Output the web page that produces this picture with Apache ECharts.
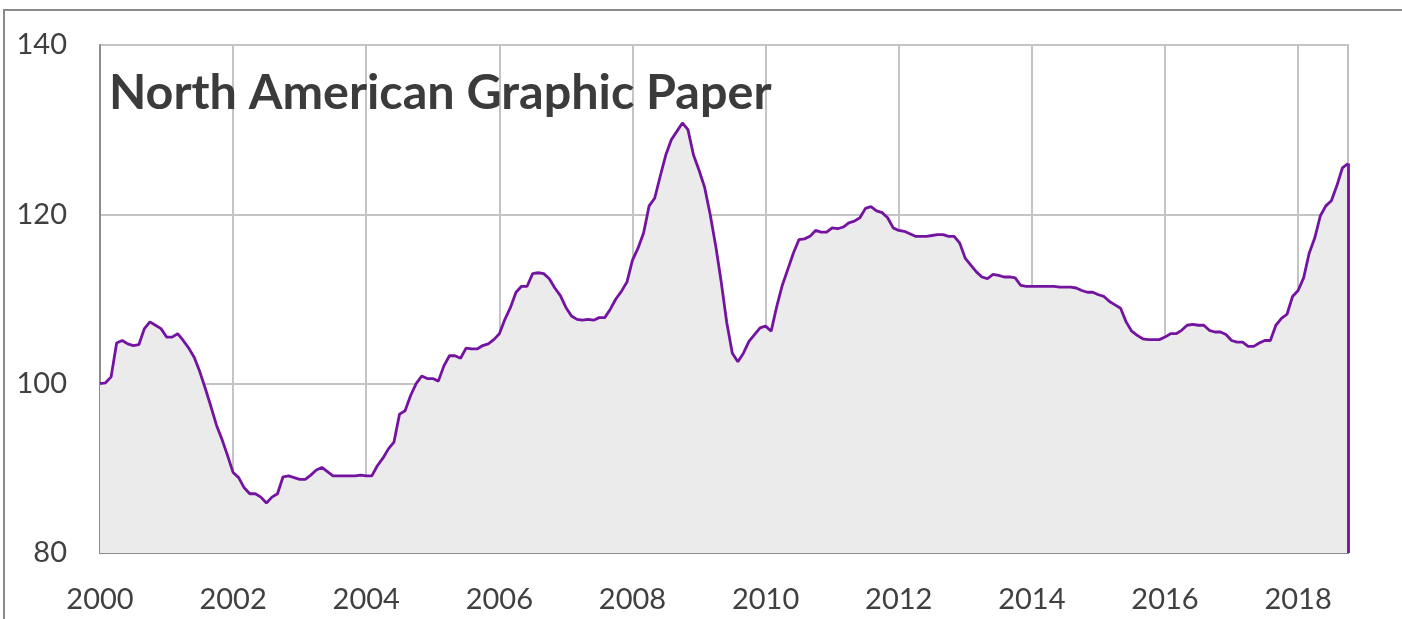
<!DOCTYPE html>
<html>
<head>
<meta charset="utf-8">
<script src="https://cdn.jsdelivr.net/npm/echarts@6/dist/echarts.min.js"></script>
<style>html,body{margin:0;padding:0;background:#fff;}#c{width:1402px;height:619px;}</style>
</head>
<body>
<div id="c"></div>
<script>
// Monthly index, Jan 2000 .. Oct 2018
const startYear = 2000;
const tickYears = [2000, 2002, 2004, 2006, 2008, 2010, 2012, 2014, 2016, 2018];
const values = [
  100.0,100.1,100.8,104.8,105.1,104.7,104.5,104.6,106.5,107.3,106.9,106.5,
  105.5,105.5,105.9,105.1,104.2,103.1,101.4,99.4,97.3,95.1,93.4,91.5,
  89.5,88.9,87.7,87.0,87.0,86.6,85.9,86.6,87.0,89.0,89.1,88.9,
  88.7,88.7,89.2,89.8,90.1,89.6,89.1,89.1,89.1,89.1,89.1,89.2,
  89.1,89.1,90.3,91.2,92.3,93.1,96.4,96.8,98.6,100.0,100.9,100.6,
  100.6,100.3,102.1,103.3,103.3,103.0,104.2,104.1,104.1,104.5,104.7,105.2,
  105.9,107.6,109.0,110.8,111.5,111.5,113.0,113.1,113.0,112.4,111.3,110.4,
  109.0,108.0,107.6,107.5,107.6,107.5,107.8,107.8,108.8,110.0,110.9,112.0,
  114.6,116.0,117.8,121.0,121.9,124.5,127.0,128.8,129.8,130.8,130.0,127.0,
  125.2,123.2,120.0,116.3,112.0,107.2,103.6,102.6,103.6,105.0,105.8,106.6,
  106.8,106.2,109.1,111.6,113.5,115.4,117.0,117.1,117.4,118.1,117.9,117.9,
  118.4,118.3,118.5,119.0,119.2,119.6,120.7,120.9,120.4,120.2,119.6,118.4,
  118.1,118.0,117.7,117.4,117.4,117.4,117.5,117.6,117.6,117.4,117.4,116.6,
  114.8,114.0,113.2,112.6,112.4,112.9,112.8,112.6,112.6,112.5,111.6,111.5,
  111.5,111.5,111.5,111.5,111.5,111.4,111.4,111.4,111.3,111.0,110.8,110.8,
  110.5,110.3,109.7,109.3,108.9,107.3,106.2,105.7,105.3,105.2,105.2,105.2,
  105.5,105.9,105.9,106.3,106.9,107.0,106.9,106.9,106.3,106.1,106.1,105.8,
  105.1,104.9,104.9,104.4,104.4,104.8,105.1,105.1,106.9,107.7,108.2,110.3,
  111.0,112.5,115.4,117.2,119.8,121.0,121.6,123.4,125.5,126.0
];
const categories = values.map((v, i) => {
  const y = startYear + Math.floor(i / 12);
  const m = (i % 12) + 1;
  return y + '-' + (m < 10 ? '0' + m : m);
});
const yTicks = [80, 100, 120, 140];

const isTick = (idx) => tickYears.indexOf(startYear + idx / 12) >= 0;

const chart = echarts.init(document.getElementById('c'), null, {renderer: 'canvas'});
const lastIdx = categories.length - 1;
chart.setOption({
  animation: false,
  backgroundColor: '#ffffff',
  title: {
    text: 'North American Graphic Paper',
    left: 104, top: 64,
    textStyle: {fontFamily: 'Lato', fontWeight: 'bold', fontSize: 48.5, color: '#3b3b3b'}
  },
  graphic: [{
    type: 'rect', silent: true, z: 100,
    shape: {x: 4, y: 10, width: 1500, height: 800},
    style: {fill: 'none', stroke: '#8a8a8a', lineWidth: 2}
  }],
  grid: {
    left: 100, right: 54, top: 45, bottom: 66,
    show: true, borderColor: '#bfbfbf', borderWidth: 2, backgroundColor: 'transparent'
  },
  xAxis: {
    type: 'category',
    data: categories,
    boundaryGap: false,
    axisLine: {show: true, lineStyle: {color: '#8c8c8c', width: 2}},
    axisTick: {show: false},
    axisLabel: {
      interval: (idx) => isTick(idx),
      formatter: (val) => val.slice(0, 4),
      fontFamily: 'Lato', fontSize: 29, color: '#404040', margin: 32
    },
    splitLine: {show: true, interval: (idx) => isTick(idx), lineStyle: {color: '#c4c4c4', width: 2}}
  },
  yAxis: {
    type: 'value',
    min: yTicks[0], max: yTicks[yTicks.length - 1], interval: 20,
    axisLine: {show: true, lineStyle: {color: '#8c8c8c', width: 2}},
    axisTick: {show: false},
    axisLabel: {fontFamily: 'Lato', fontSize: 29, color: '#404040', margin: 33},
    splitLine: {show: true, lineStyle: {color: '#c4c4c4', width: 2}}
  },
  series: [{
    type: 'line',
    data: values,
    symbol: 'none',
    lineStyle: {color: '#7413a0', width: 2.8},
    areaStyle: {color: '#ebebeb', opacity: 1},
    markLine: {
      silent: true, symbol: 'none', label: {show: false},
      lineStyle: {color: '#7413a0', width: 2.8, type: 'solid'},
      data: [[{coord: [lastIdx, values[lastIdx]]}, {coord: [lastIdx, yTicks[0]]}]]
    }
  }]
});
</script>
</body>
</html>
